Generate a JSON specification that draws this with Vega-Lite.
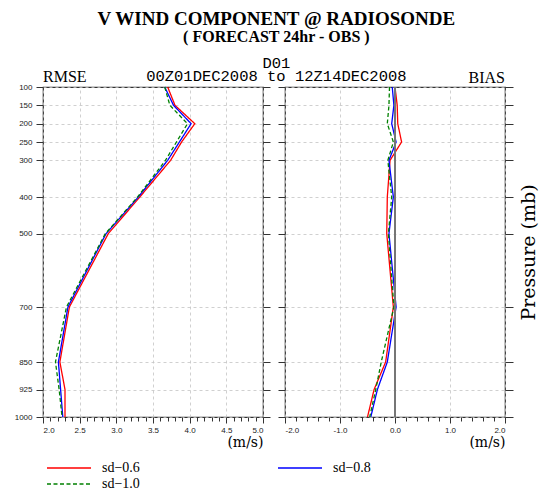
{
  "$schema": "https://vega.github.io/schema/vega-lite/v6.json",
  "padding": {"left": 13, "top": 10, "right": 6, "bottom": 2},
  "title": {
    "text": "V WIND COMPONENT @ RADIOSONDE",
    "subtitle": "( FORECAST 24hr - OBS )",
    "font": "Liberation Serif",
    "fontSize": 19,
    "fontWeight": "bold",
    "color": "#000",
    "subtitleFont": "Liberation Serif",
    "subtitleFontSize": 16,
    "subtitleFontWeight": "bold",
    "subtitleColor": "#000",
    "subtitlePadding": 0,
    "anchor": "middle",
    "offset": 11
  },
  "datasets": {
    "profiles": [
      {"p": 100, "sd": "sd−0.6", "rmse": 3.70, "bias": 0.00},
      {"p": 150, "sd": "sd−0.6", "rmse": 3.80, "bias": 0.04},
      {"p": 200, "sd": "sd−0.6", "rmse": 4.07, "bias": 0.05},
      {"p": 250, "sd": "sd−0.6", "rmse": 3.89, "bias": 0.12},
      {"p": 300, "sd": "sd−0.6", "rmse": 3.74, "bias": -0.09},
      {"p": 400, "sd": "sd−0.6", "rmse": 3.32, "bias": -0.14},
      {"p": 500, "sd": "sd−0.6", "rmse": 2.89, "bias": -0.15},
      {"p": 700, "sd": "sd−0.6", "rmse": 2.36, "bias": -0.03},
      {"p": 850, "sd": "sd−0.6", "rmse": 2.23, "bias": -0.17},
      {"p": 925, "sd": "sd−0.6", "rmse": 2.30, "bias": -0.38},
      {"p": 1000, "sd": "sd−0.6", "rmse": 2.30, "bias": -0.50},
      {"p": 100, "sd": "sd−0.8", "rmse": 3.66, "bias": -0.05},
      {"p": 150, "sd": "sd−0.8", "rmse": 3.78, "bias": -0.02},
      {"p": 200, "sd": "sd−0.8", "rmse": 4.02, "bias": -0.06},
      {"p": 250, "sd": "sd−0.8", "rmse": 3.86, "bias": 0.02},
      {"p": 300, "sd": "sd−0.8", "rmse": 3.70, "bias": -0.11},
      {"p": 400, "sd": "sd−0.8", "rmse": 3.30, "bias": -0.03},
      {"p": 500, "sd": "sd−0.8", "rmse": 2.86, "bias": -0.11},
      {"p": 700, "sd": "sd−0.8", "rmse": 2.34, "bias": 0.02},
      {"p": 850, "sd": "sd−0.8", "rmse": 2.21, "bias": -0.14},
      {"p": 925, "sd": "sd−0.8", "rmse": 2.24, "bias": -0.32},
      {"p": 1000, "sd": "sd−0.8", "rmse": 2.27, "bias": -0.44},
      {"p": 100, "sd": "sd−1.0", "rmse": 3.66, "bias": -0.10},
      {"p": 150, "sd": "sd−1.0", "rmse": 3.73, "bias": -0.11},
      {"p": 200, "sd": "sd−1.0", "rmse": 3.97, "bias": -0.14},
      {"p": 250, "sd": "sd−1.0", "rmse": 3.82, "bias": -0.03},
      {"p": 300, "sd": "sd−1.0", "rmse": 3.67, "bias": -0.13},
      {"p": 400, "sd": "sd−1.0", "rmse": 3.29, "bias": -0.06},
      {"p": 500, "sd": "sd−1.0", "rmse": 2.85, "bias": -0.12},
      {"p": 700, "sd": "sd−1.0", "rmse": 2.32, "bias": -0.02},
      {"p": 850, "sd": "sd−1.0", "rmse": 2.17, "bias": -0.25},
      {"p": 925, "sd": "sd−1.0", "rmse": 2.22, "bias": -0.35},
      {"p": 1000, "sd": "sd−1.0", "rmse": 2.26, "bias": -0.46}
    ]
  },
  "vconcat": [
    {
      "title": {
        "text": "D01",
        "subtitle": "00Z01DEC2008 to 12Z14DEC2008",
        "font": "Liberation Mono",
        "fontSize": 15.5,
        "fontWeight": "normal",
        "color": "#000",
        "subtitleFont": "Liberation Mono",
        "subtitleFontSize": 15.5,
        "subtitleColor": "#000",
        "subtitlePadding": -3,
        "anchor": "middle",
        "offset": -16
      },
      "spacing": 22,
      "bounds": "flush",
      "hconcat": [
        {
          "width": 220,
          "height": 330,
          "data": {"name": "profiles"},
          "title": {"text": "RMSE", "anchor": "start", "frame": "group", "font": "Liberation Serif", "fontSize": 16, "fontWeight": "normal", "color": "#000", "offset": -2},
          "layer": [
            {
              "mark": {"type": "line", "strokeWidth": 1.3},
              "encoding": {
                "x": {
                  "field": "rmse", "type": "quantitative",
                  "scale": {"domain": [2, 5], "nice": false, "zero": false},
                  "axis": {
                    "values": [2.0, 2.1, 2.2, 2.3, 2.4, 2.5, 2.6, 2.7, 2.8, 2.9, 3.0, 3.1, 3.2, 3.3, 3.4, 3.5, 3.6, 3.7, 3.8, 3.9, 4.0, 4.1, 4.2, 4.3, 4.4, 4.5, 4.6, 4.7, 4.8, 4.9, 5.0],
                    "labelExpr": "round(datum.value * 10) % 5 === 0 ? format(datum.value, '.1f') : ''",
                    "tickSize": {"condition": {"test": "round(datum.value * 10) % 5 === 0", "value": 6}, "value": 4},
                    "gridOpacity": {"condition": {"test": "round(datum.value * 10) % 5 === 0", "value": 1}, "value": 0},
                    "labelOverlap": false,
                    "labelPadding": 3,
                    "title": "(m/s)",
                    "titleAnchor": "end",
                    "titleAlign": "right",
                    "titlePadding": 1
                  }
                },
                "y": {
                  "field": "p", "type": "quantitative",
                  "scale": {"domain": [100, 1000], "reverse": true, "nice": false, "zero": false},
                  "axis": {"orient": "left", "values": [100, 150, 200, 250, 300, 400, 500, 700, 850, 925, 1000], "format": "d", "labelOverlap": false, "tickSize": 7, "labelPadding": 4, "title": null}
                },
                "color": {
                  "field": "sd", "type": "nominal",
                  "scale": {"domain": ["sd−0.6", "sd−0.8", "sd−1.0"], "range": ["#ff0000", "#0000ff", "#008000"]},
                  "legend": {"title": null}
                },
                "strokeDash": {
                  "field": "sd", "type": "nominal",
                  "scale": {"domain": ["sd−0.6", "sd−0.8", "sd−1.0"], "range": [[1, 0], [1, 0], [4, 2.5]]},
                  "legend": {"title": null}
                },
                "order": {"field": "p", "type": "quantitative"}
              }
            },
            {
              "mark": {"type": "rule", "strokeOpacity": 0},
              "encoding": {
                "y": {
                  "field": "p", "type": "quantitative",
                  "axis": {"orient": "right", "values": [100, 150, 200, 250, 300, 400, 500, 700, 850, 925, 1000], "tickSize": 7, "labels": false, "grid": false, "title": null}
                }
              }
            }
          ],
          "resolve": {"axis": {"y": "independent"}}
        },
        {
          "width": 220,
          "height": 330,
          "data": {"name": "profiles"},
          "title": {"text": "BIAS", "anchor": "end", "frame": "group", "font": "Liberation Serif", "fontSize": 16, "fontWeight": "normal", "color": "#000", "offset": -2},
          "layer": [
            {
              "mark": {"type": "line", "strokeWidth": 1.3},
              "encoding": {
                "x": {
                  "field": "bias", "type": "quantitative",
                  "scale": {"domain": [-2, 2], "nice": false, "zero": false},
                  "axis": {
                    "values": [-2.0, -1.8, -1.6, -1.4, -1.2, -1.0, -0.8, -0.6, -0.4, -0.2, 0.0, 0.2, 0.4, 0.6, 0.8, 1.0, 1.2, 1.4, 1.6, 1.8, 2.0],
                    "labelExpr": "abs(round(datum.value * 10)) % 10 === 0 ? replace(format(datum.value, '.1f'), '−', '-') : ''",
                    "tickSize": {"condition": {"test": "abs(round(datum.value * 10)) % 10 === 0", "value": 6}, "value": 4},
                    "gridOpacity": {"condition": {"test": "abs(round(datum.value * 10)) % 10 === 0", "value": 1}, "value": 0},
                    "labelOverlap": false,
                    "labelPadding": 3,
                    "title": "(m/s)",
                    "titleAnchor": "end",
                    "titleAlign": "right",
                    "titlePadding": 1
                  }
                },
                "y": {
                  "field": "p", "type": "quantitative",
                  "scale": {"domain": [100, 1000], "reverse": true, "nice": false, "zero": false},
                  "axis": {"orient": "left", "values": [100, 150, 200, 250, 300, 400, 500, 700, 850, 925, 1000], "tickSize": 7, "labels": false, "title": null}
                },
                "color": {"field": "sd", "type": "nominal"},
                "strokeDash": {"field": "sd", "type": "nominal"},
                "order": {"field": "p", "type": "quantitative"}
              }
            },
            {
              "mark": {"type": "rule", "color": "#777", "strokeWidth": 1},
              "encoding": {
                "x": {
                  "datum": 0, "type": "quantitative",
                  "axis": {
                    "values": [-2.0, -1.8, -1.6, -1.4, -1.2, -1.0, -0.8, -0.6, -0.4, -0.2, 0.0, 0.2, 0.4, 0.6, 0.8, 1.0, 1.2, 1.4, 1.6, 1.8, 2.0],
                    "labelExpr": "abs(round(datum.value * 10)) % 10 === 0 ? replace(format(datum.value, '.1f'), '−', '-') : ''",
                    "tickSize": {"condition": {"test": "abs(round(datum.value * 10)) % 10 === 0", "value": 6}, "value": 4},
                    "gridOpacity": {"condition": {"test": "abs(round(datum.value * 10)) % 10 === 0", "value": 1}, "value": 0},
                    "labelOverlap": false,
                    "labelPadding": 3,
                    "title": "(m/s)",
                    "titleAnchor": "end",
                    "titleAlign": "right",
                    "titlePadding": 1
                  }
                }
              }
            },
            {
              "mark": {"type": "rule", "strokeOpacity": 0},
              "encoding": {
                "y": {
                  "field": "p", "type": "quantitative",
                  "axis": {
                    "orient": "right", "values": [100, 150, 200, 250, 300, 400, 500, 700, 850, 925, 1000],
                    "tickSize": 8, "labels": false, "grid": false,
                    "title": "Pressure (mb)", "titleAngle": 270, "titleBaseline": "top", "titleFont": "DejaVu Serif", "titleFontSize": 19,
                    "titleFontWeight": "normal", "titleColor": "#000", "titlePadding": 6
                  }
                }
              }
            }
          ],
          "resolve": {"axis": {"y": "independent"}}
        }
      ]
    }
  ],
  "config": {
    "view": {"stroke": "#333", "strokeWidth": 1.2},
    "title": {"font": "Liberation Serif", "subtitleFont": "Liberation Serif"},
    "axis": {
      "domain": false,
      "labelFont": "Liberation Sans",
      "labelFontSize": 8,
      "labelColor": "#222",
      "tickColor": "#333",
      "tickWidth": 1,
      "gridColor": "#c4c4c4",
      "gridDash": [3, 3],
      "gridWidth": 0.8,
      "titleFont": "DejaVu Serif",
      "titleFontSize": 14,
      "titleFontWeight": "normal",
      "titleColor": "#000"
    },
    "legend": {
      "orient": "bottom",
      "direction": "horizontal",
      "columns": 2,
      "symbolType": "M-4,0H4",
      "symbolSize": 121,
      "symbolStrokeWidth": 1.3,
      "labelFont": "Liberation Serif",
      "labelFontSize": 14,
      "labelColor": "#000",
      "labelOffset": 26,
      "columnPadding": 135,
      "rowPadding": 2,
      "offset": -8.5,
      "padding": 19
    }
  }
}
